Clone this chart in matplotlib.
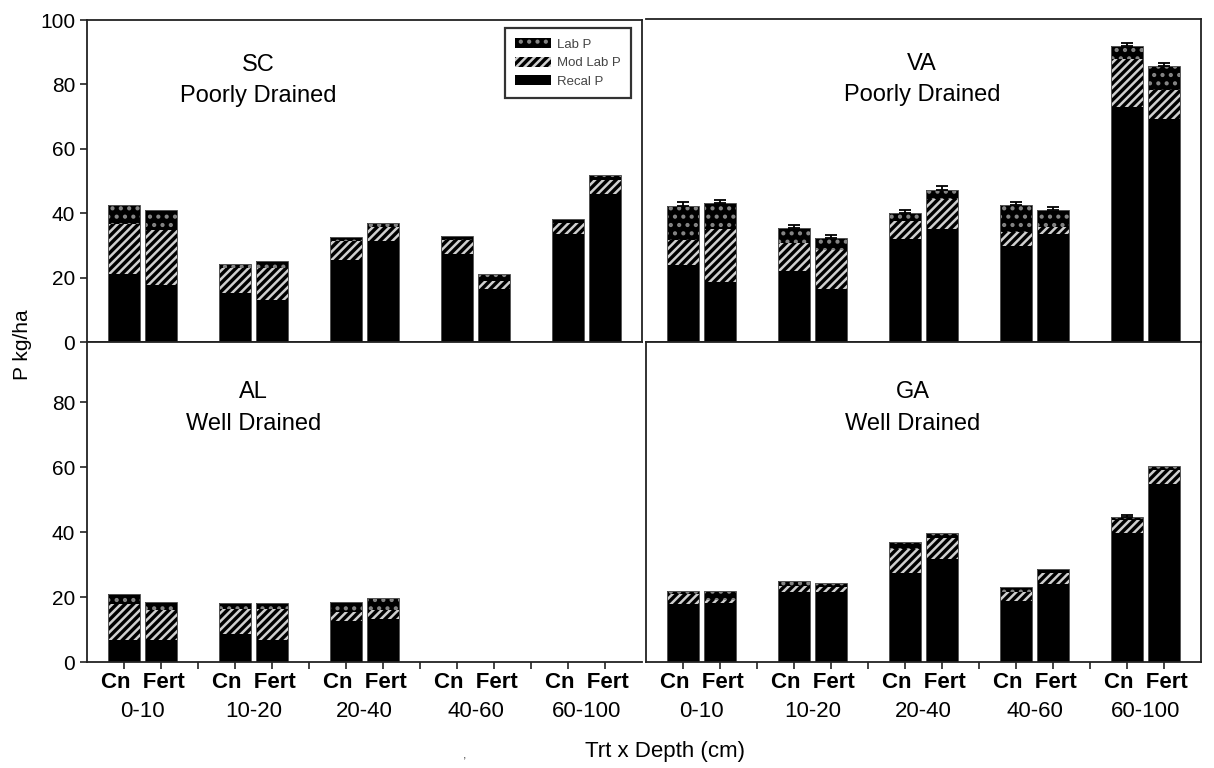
import matplotlib.pyplot as plt
import numpy as np
from matplotlib.patches import Patch

plt.rcParams['font.family'] = ['Liberation Sans', 'DejaVu Sans']
plt.rcParams['hatch.linewidth'] = 1.8

depths = ['0-10', '10-20', '20-40', '40-60', '60-100']
trts = ['Cn', 'Fert']
nan = np.nan

# each list runs Cn, Fert for every depth in turn
sc_recal = [21.0, 17.6, 15.2, 13.0, 25.5, 31.5, 27.2, 16.5, 33.5, 46.1]
sc_mod = [15.8, 17.3, 7.8, 10.0, 6.0, 4.1, 4.5, 2.4, 3.6, 4.1]
sc_lab = [5.8, 6.1, 1.3, 2.1, 1.2, 1.3, 1.2, 2.3, 1.1, 1.6]
sc_err = [nan] * 10

va_recal = [23.7, 18.7, 22.0, 16.5, 31.9, 35.0, 29.8, 33.4, 72.7, 69.0]
va_mod = [7.9, 16.3, 8.7, 12.0, 5.7, 9.3, 4.2, 2.1, 15.0, 9.1]
va_lab = [10.4, 7.9, 4.5, 3.6, 2.3, 2.8, 8.4, 5.4, 3.9, 7.2]
va_err = [1.2, 1.1, 1.0, 1.0, 1.1, 1.2, 0.8, 0.8, 1.0, 1.1]

al_recal = [6.7, 6.9, 8.7, 6.9, 12.6, 13.1, nan, nan, nan, nan]
al_mod = [11.3, 9.1, 7.6, 9.4, 2.8, 2.9, nan, nan, nan, nan]
al_lab = [3.0, 2.5, 1.9, 1.9, 3.0, 3.6, nan, nan, nan, nan]
al_err = [nan] * 10

ga_recal = [18.0, 18.2, 21.5, 21.5, 27.5, 31.8, 18.7, 23.9, 39.8, 54.7]
ga_mod = [2.8, 0.8, 1.8, 1.7, 7.2, 6.5, 2.8, 3.6, 3.9, 4.3]
ga_lab = [1.2, 2.8, 1.5, 1.2, 2.2, 1.3, 1.6, 1.2, 0.9, 1.4]
ga_err = [nan] * 8 + [0.8, nan]

LAB_HATCH = '..'
MOD_HATCH = '////'
LAB_COLOR = '#858585'
MOD_COLOR = '#cfcfcf'
FS = 15


def draw_panel(ax, recal, mod, lab, err, title, subtitle, tx, ymax):
    x = np.array([3 * g + t for g in range(len(depths)) for t in range(len(trts))], dtype=float)
    recal, mod, lab, err = (np.array(v, dtype=float) for v in (recal, mod, lab, err))
    ok = ~np.isnan(recal)
    x, recal, mod, lab, err = x[ok], recal[ok], mod[ok], lab[ok], err[ok]
    w = 0.86
    ax.bar(x, recal, width=w, color='black', linewidth=0)
    ax.bar(x, mod, bottom=recal, width=w, color='black', edgecolor=MOD_COLOR,
           hatch=MOD_HATCH, linewidth=0)
    ax.bar(x, lab, bottom=recal + mod, width=w, color='black', edgecolor=LAB_COLOR,
           hatch=LAB_HATCH, linewidth=0)
    total = recal + mod + lab
    ax.bar(x, total, width=w, fill=False, edgecolor='#555555', linewidth=0.7)
    has = ~np.isnan(err)
    if has.any():
        ax.errorbar(x[has], total[has], yerr=[np.zeros(has.sum()), err[has]], fmt='none',
                    ecolor='black', elinewidth=1.3, capsize=4.5, capthick=1.3)
    ax.set_xlim(-1, 14)
    ax.set_ylim(0, ymax)
    ax.text(tx, title[1], title[0], transform=ax.transAxes, ha='center', va='center', fontsize=17)
    ax.text(tx, subtitle[1], subtitle[0], transform=ax.transAxes, ha='center', va='center',
            fontsize=17)
    for s in ax.spines.values():
        s.set_linewidth(1.3)
        s.set_color('#222222')
    ax.tick_params(direction='out', length=5, width=1.2, labelsize=FS, color='#222222')


fig = plt.figure(figsize=(12.14, 7.68), dpi=100)
W, H = 1214, 768


def axes_at(x0, y0, x1, y1):
    return fig.add_axes([x0 / W, 1 - y1 / H, (x1 - x0) / W, (y1 - y0) / H])


ax_sc = axes_at(87, 20, 642, 342)
ax_va = axes_at(646, 19, 1201, 342)
ax_al = axes_at(87, 342, 642, 662)
ax_ga = axes_at(646, 342, 1201, 662)

draw_panel(ax_sc, sc_recal, sc_mod, sc_lab, sc_err, ('SC', 0.86), ('Poorly Drained', 0.765), 0.308, 100)
draw_panel(ax_va, va_recal, va_mod, va_lab, va_err, ('VA', 0.86), ('Poorly Drained', 0.765), 0.497, 100)
draw_panel(ax_al, al_recal, al_mod, al_lab, al_err, ('AL', 0.844), ('Well Drained', 0.744), 0.30, 98.5)
draw_panel(ax_ga, ga_recal, ga_mod, ga_lab, ga_err, ('GA', 0.844), ('Well Drained', 0.744), 0.48, 98.5)

ax_va.spines['left'].set_visible(False)
ax_al.spines['right'].set_visible(False)

ax_sc.set_yticks(np.arange(0, 101, 20))
ax_al.set_yticks(np.arange(0, 81, 20))
ax_sc.tick_params(bottom=False, labelbottom=False)
ax_va.tick_params(bottom=False, labelbottom=False, left=False, labelleft=False)
ax_ga.tick_params(left=False, labelleft=False)

for ax in (ax_al, ax_ga):
    ax.set_xticks(np.arange(0, 14))
    ax.set_xticklabels([])
    tr = ax.get_xaxis_transform()
    for g, d in enumerate(depths):
        cx = 3 * g + 0.5
        ax.text(cx, -0.065, '  '.join(trts), transform=tr, ha='center', va='center',
                fontsize=16, fontweight='bold')
        ax.text(cx, -0.155, d, transform=tr, ha='center', va='center', fontsize=16)

handles = [Patch(facecolor='black', edgecolor=LAB_COLOR, hatch=LAB_HATCH, linewidth=0),
           Patch(facecolor='black', edgecolor=MOD_COLOR, hatch=MOD_HATCH, linewidth=0),
           Patch(facecolor='black', linewidth=0)]
leg = ax_sc.legend(handles, ['Lab P', 'Mod Lab P', 'Recal P'], loc='upper right',
                   bbox_to_anchor=(0.98, 0.975), fontsize=9.5, frameon=True, fancybox=False,
                   handlelength=2.7, handleheight=0.8, labelspacing=0.45, borderpad=0.75,
                   handletextpad=0.5, borderaxespad=0)
leg.get_frame().set_edgecolor('black')
leg.get_frame().set_linewidth(1.6)
for t in leg.get_texts():
    t.set_color('#444444')

fig.text(22 / W, 1 - 345 / H, 'P kg/ha', rotation=90, ha='center', va='center', fontsize=15)
fig.text(665 / W, 1 - 752 / H, 'Trt x Depth (cm)', ha='center', va='center', fontsize=16)
fig.text(465 / W, 1 - 755 / H, ',', ha='center', va='center', fontsize=9, color='#444444')

fig.savefig('out.png', dpi=100)
